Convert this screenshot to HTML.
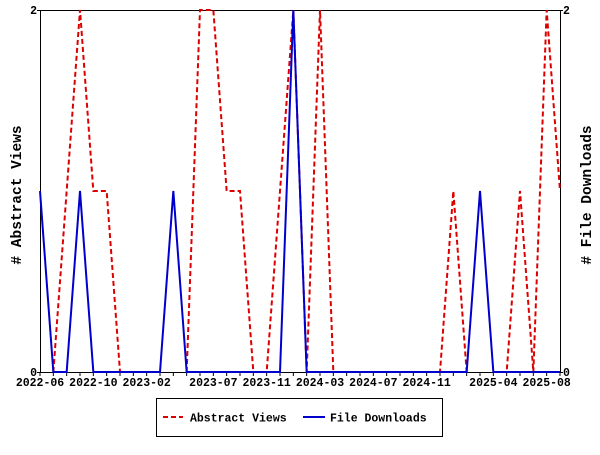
<!DOCTYPE html>
<html><head><meta charset="utf-8"><style>
body{margin:0;background:#fff}
svg text{font-family:"Liberation Mono","DejaVu Sans Mono",monospace;font-weight:bold;font-size:11.5px;fill:#000}
svg text.title{font-size:14.5px}
</style></head><body>
<svg id="chart" width="600" height="450" xmlns="http://www.w3.org/2000/svg">
<rect x="0" y="0" width="600" height="450" fill="#fff"/>
<g id="axes"></g><g id="series"></g>
<g>
<rect x="156.5" y="398.5" width="286" height="38" fill="#fff" stroke="#000"/>
<line x1="163" y1="417" x2="183" y2="417" stroke="#d00" stroke-width="2" stroke-dasharray="5,3"/>
<text x="190" y="421.5">Abstract Views</text>
<line x1="303" y1="417" x2="325" y2="417" stroke="#00c" stroke-width="2"/>
<text x="330" y="421.5">File Downloads</text>
</g>
</svg>
<script>
const views=[null,0,1,2,1,1,0,0,0,0,null,0,2,2,1,1,0,0,1,2,0,2,0,0,0,0,0,0,0,0,0,1,0,null,0,0,1,0,2,1];
const downloads=[1,0,0,1,0,0,0,0,0,0,1,0,0,0,0,0,0,0,0,2,0,0,0,0,0,0,0,0,0,0,0,0,0,1,0,0,0,0,0,0];
const tickLabels=["2022-06","2022-10","2023-02","2023-07","2023-11","2024-03","2024-07","2024-11","2025-04","2025-08"];
const tickIndex=[0,4,8,13,17,21,25,29,34,38];
const yTicks=[0,2];
const NS="http://www.w3.org/2000/svg";
const L=40,R=560,T=10,B=372,N=views.length;
const xs=i=>L+(R-L)*i/(N-1);
const ys=v=>B-(B-T)*v/2;
function mk(tag,attrs,parent){const e=document.createElementNS(NS,tag);for(const k in attrs)e.setAttribute(k,attrs[k]);parent.appendChild(e);return e;}
const ax=document.getElementById('axes'),se=document.getElementById('series');
const frame=mk('rect',{x:L+0.5,y:T+0.5,width:R-L,height:B-T,fill:'none',stroke:'#000'},ax);


for(let i=0;i<N;i++){const t=mk('line',{x1:xs(i),x2:xs(i),y1:B,y2:B+4,stroke:'#000'},ax);

}
tickLabels.forEach((s,k)=>{const t=mk('text',{x:xs(tickIndex[k]),y:B+14,'text-anchor':'middle'},ax);t.textContent=s;

});
yTicks.forEach(v=>{const a=mk('text',{x:L-3,y:ys(v)+4,'text-anchor':'end'},ax);a.textContent=v;


const b=mk('text',{x:R+3,y:ys(v)+4},ax);b.textContent=v;


mk('line',{x1:L-3,x2:L,y1:ys(v)+0.5,y2:ys(v)+0.5,stroke:'#000'},ax);
mk('line',{x1:R,x2:R+3,y1:ys(v)+0.5,y2:ys(v)+0.5,stroke:'#000'},ax);});
const t1=mk('text',{class:'title',transform:'translate(21,195) rotate(-90)','text-anchor':'middle'},ax);t1.textContent='# Abstract Views';


const t2=mk('text',{class:'title',transform:'translate(591,195) rotate(-90)','text-anchor':'middle'},ax);t2.textContent='# File Downloads';


function path(arr){let d='',pen=false;arr.forEach((v,i)=>{if(v===null){pen=false;return;}d+=(pen?'L':'M')+xs(i)+','+ys(v);pen=true;});return d;}
const pv=mk('path',{d:path(views),fill:'none',stroke:'#d00',"stroke-width":2,"stroke-dasharray":"5,3"},se);


const pd=mk('path',{d:path(downloads),fill:'none',stroke:'#00c',"stroke-width":2},se);


</script>
</body></html>
